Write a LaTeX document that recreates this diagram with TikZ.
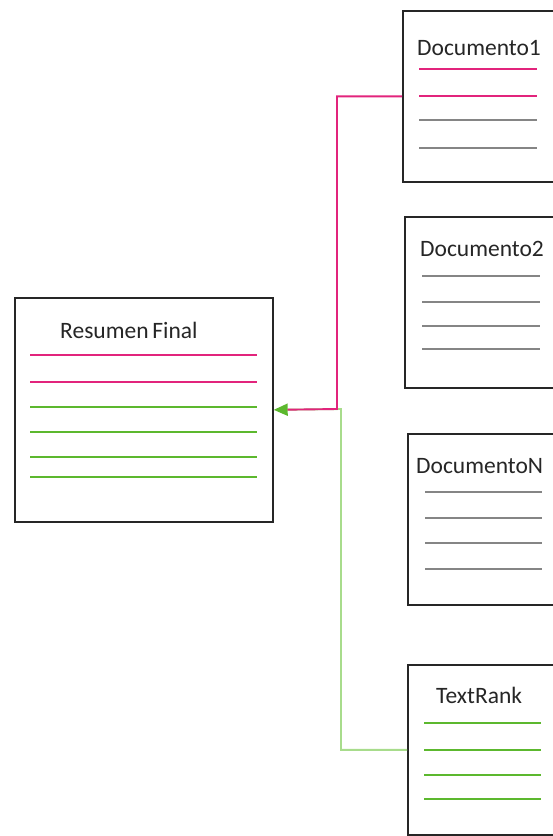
\documentclass[tikz,border=0pt]{standalone}
\usepackage{fontspec}
\setmainfont{Carlito}
\usetikzlibrary{arrows.meta,calc}
\definecolor{pinkline}{HTML}{E2247C}
\definecolor{greenline}{HTML}{5CB82E}
\definecolor{lightgreen}{HTML}{A8DC8C}
\definecolor{grayline}{HTML}{858585}
\definecolor{framecol}{HTML}{262626}
\begin{document}
\begin{tikzpicture}[x=1pt,y=-1pt,
  docbox/.style={draw=framecol, line width=1.7pt, fill=white, anchor=north west,
    inner sep=0pt, minimum width=#1},
  docbox/.default=160pt,
  doctitle/.style={font=\fontsize{23.5}{27}\selectfont, text=black!85, anchor=base west, inner sep=0pt},
  rule/.style={line width=1.7pt},
  link/.style={line width=1.9pt}]
\useasboundingbox (0,0) rectangle (553,836);
\clip (0,0) rectangle (553,836);

% source documents (cut by the right edge)
\node[docbox, minimum height=171pt] (d1) at (402,10) {};
\node[docbox, minimum height=171pt] (d2) at (404,216) {};
\node[docbox, minimum height=171pt] (dn) at (407,433) {};
\node[docbox, minimum height=170pt] (tr) at (407,664) {};

% final summary
\node[docbox=258pt, minimum height=224pt] (rf) at (14,297) {};

% titles
\node[doctitle] (t1) at (417,55) {Documento1};
\node[doctitle] (t2) at (420,256) {Documento2};
\node[doctitle] (tn) at (416,473) {DocumentoN};
\node[doctitle] (tt) at (436,703) {TextRank};
\node[doctitle] (tf) at (60,338) {Resumen\hspace{-1.5pt} Final};

% text lines of Documento1
\draw[rule, pinkline] ($(d1.north west)+(17,59)$) -- ++(118,0);
\draw[rule, pinkline] ($(d1.north west)+(17,86)$) -- ++(118,0);
\draw[rule, grayline] ($(d1.north west)+(17,110)$) -- ++(118,0);
\draw[rule, grayline] ($(d1.north west)+(17,138)$) -- ++(118,0);

% text lines of Documento2
\foreach \dy in {60,86,110,133}
  \draw[rule, grayline] ($(d2.north west)+(18,\dy)$) -- ++(118,0);

% text lines of DocumentoN
\foreach \dy in {59,85,110,136}
  \draw[rule, grayline] ($(dn.north west)+(18,\dy)$) -- ++(117,0);

% text lines of TextRank
\foreach \dy in {59,86,111,135}
  \draw[rule, greenline] ($(tr.north west)+(17,\dy)$) -- ++(117,0);

% text lines of the summary
\draw[rule, pinkline] ($(rf.north west)+(16,58)$) -- ++(227,0);
\draw[rule, pinkline] ($(rf.north west)+(16,85)$) -- ++(227,0);
\foreach \dy in {110,135,160,180}
  \draw[rule, greenline] ($(rf.north west)+(16,\dy)$) -- ++(227,0);

% connectors into the summary
\coordinate (gjoin) at (341,409);
\coordinate (pjoin) at (337,409);
\draw[link, lightgreen, -{Triangle[length=14pt,width=12pt,color=greenline]}]
  (tr.west) -| (gjoin) -- (rf.east);
\draw[link, pinkline, shorten >=14pt] (d1.west) -| (pjoin) -- (rf.east);
\end{tikzpicture}
\end{document}
